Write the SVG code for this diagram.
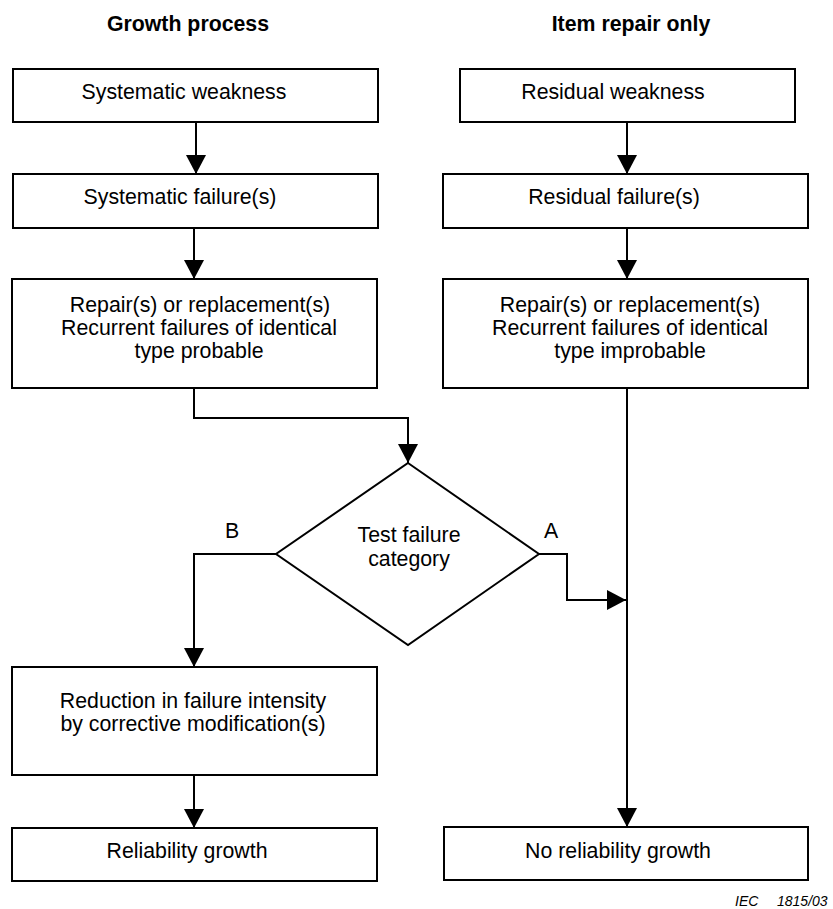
<svg xmlns="http://www.w3.org/2000/svg" width="833" height="909" viewBox="0 0 833 909">
  <style>
    .box { fill: #fff; stroke: #000; stroke-width: 2; }
    .wire { fill: none; stroke: #000; stroke-width: 2; }
    text { font-family: "Liberation Sans", Arial, sans-serif; font-size: 21.3px; fill: #000; text-anchor: middle; }
    .title { font-weight: bold; }
    .ref { font-size: 14px; font-style: italic; text-anchor: start; }
  </style>
  <defs>
    <marker id="arrow" markerUnits="userSpaceOnUse" markerWidth="19" markerHeight="20" refX="19" refY="10" orient="auto">
      <path d="M0,0 L19,10 L0,20 z" fill="#000"/>
    </marker>
  </defs>

  <rect width="833" height="909" fill="#fff"/>

  <!-- column headings -->
  <text class="title" x="188" y="31">Growth process</text>
  <text class="title" x="631" y="31">Item repair only</text>

  <!-- connectors -->
  <g id="connectors">
    <path class="wire" d="M196,122 V174" marker-end="url(#arrow)"/>
    <path class="wire" d="M627,122 V174" marker-end="url(#arrow)"/>
    <path class="wire" d="M194,228 V279" marker-end="url(#arrow)"/>
    <path class="wire" d="M627,228 V279" marker-end="url(#arrow)"/>
    <path class="wire" d="M194,388 V418 H408 V463" marker-end="url(#arrow)"/>
    <path class="wire" d="M627,388 V827" marker-end="url(#arrow)"/>
    <path class="wire" d="M276,554 H194 V667" marker-end="url(#arrow)"/>
    <path class="wire" d="M539,554 H567 V600 H626" marker-end="url(#arrow)"/>
    <path class="wire" d="M194,775 V828" marker-end="url(#arrow)"/>
  </g>

  <!-- growth process column -->
  <g id="systematic-weakness">
    <rect class="box" x="13" y="69" width="365" height="53"/>
    <text x="184" y="99">Systematic weakness</text>
  </g>
  <g id="systematic-failures">
    <rect class="box" x="13" y="174" width="365" height="54"/>
    <text x="180" y="204">Systematic failure(s)</text>
  </g>
  <g id="repair-probable">
    <rect class="box" x="12" y="279" width="365" height="109"/>
    <text x="200" y="312">Repair(s) or replacement(s)</text>
    <text x="199" y="335">Recurrent failures of identical</text>
    <text x="199" y="358">type probable</text>
  </g>
  <g id="corrective-modification">
    <rect class="box" x="12" y="667" width="365" height="108"/>
    <text x="193" y="708">Reduction in failure intensity</text>
    <text x="193" y="731">by corrective modification(s)</text>
  </g>
  <g id="reliability-growth">
    <rect class="box" x="12" y="828" width="365" height="53"/>
    <text x="187" y="858">Reliability growth</text>
  </g>

  <!-- item repair column -->
  <g id="residual-weakness">
    <rect class="box" x="460" y="69" width="335" height="53"/>
    <text x="613" y="99">Residual weakness</text>
  </g>
  <g id="residual-failures">
    <rect class="box" x="443" y="174" width="365" height="54"/>
    <text x="614" y="204">Residual failure(s)</text>
  </g>
  <g id="repair-improbable">
    <rect class="box" x="443" y="279" width="365" height="109"/>
    <text x="630" y="312">Repair(s) or replacement(s)</text>
    <text x="630" y="335">Recurrent failures of identical</text>
    <text x="630" y="358">type improbable</text>
  </g>
  <g id="no-reliability-growth">
    <rect class="box" x="444" y="827" width="364" height="53"/>
    <text x="618" y="858">No reliability growth</text>
  </g>

  <!-- decision -->
  <g id="test-failure-category">
    <polygon class="box" points="408,463 539,554 408,645 276,554"/>
    <text x="409" y="542">Test failure</text>
    <text x="409" y="566">category</text>
    <text x="232" y="538">B</text>
    <text x="551" y="538">A</text>
  </g>

  <text class="ref" x="735" y="906">IEC</text>
  <text class="ref" x="777" y="906">1815/03</text>
</svg>
